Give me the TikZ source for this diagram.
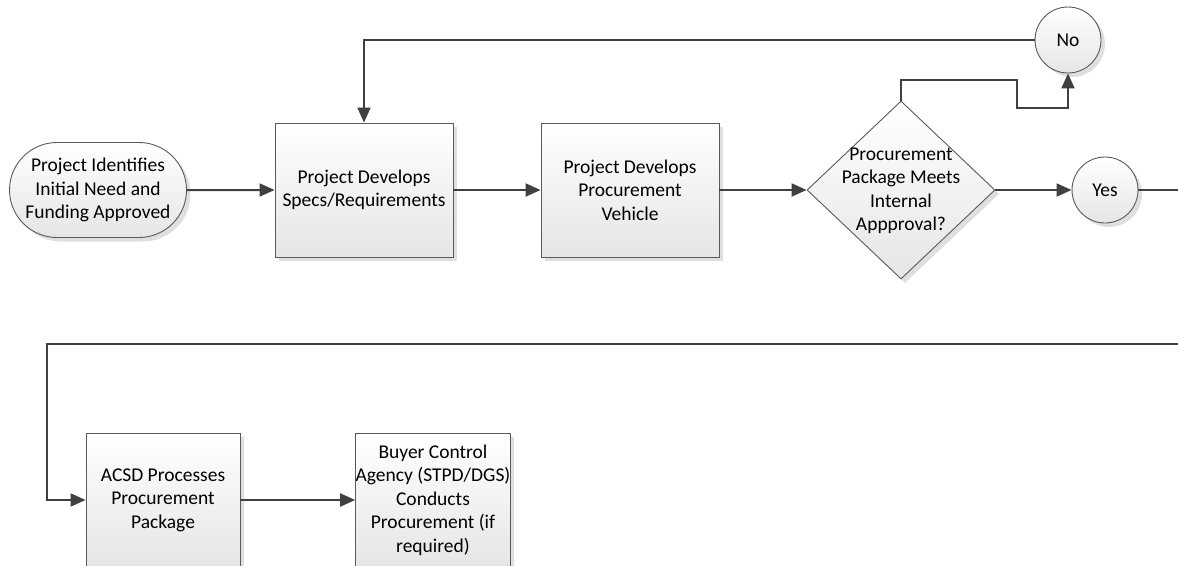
\documentclass[tikz,border=0pt]{standalone}
\usepackage{fontspec}
\setmainfont{Carlito}
\usepackage{tikz}
\usetikzlibrary{shapes.geometric,arrows.meta,shadows}
\definecolor{flowline}{HTML}{404040}
\definecolor{flowedge}{HTML}{5A5A5A}
\tikzset{%
  every flow/.style={
    draw=flowedge,
    line width=0.9pt,
    top color=white,
    bottom color=black!10,
    drop shadow={shadow xshift=4pt, shadow yshift=-4pt, fill=black!25, opacity=0.5},
    font=\fontsize{19.5}{23.5}\selectfont,
    align=center,
    inner sep=0pt
  },
  flow process/.style={
    rectangle,
    minimum width=178pt,
    minimum height=134pt
  },
  flow small/.style={
    rectangle,
    minimum width=154pt,
    minimum height=134pt
  },
  flow terminal/.style={
    rounded rectangle,
    minimum width=177pt,
    minimum height=95pt
  },
  flow decision/.style={
    diamond,
    minimum width=188pt,
    minimum height=178pt
  },
  flow answer/.style={
    circle,
    minimum size=66pt
  },
  flow arrow/.style={
    draw=flowline,
    line width=2pt,
    -{Triangle[length=15pt,width=13pt]}
  },
  flow line/.style={
    draw=flowline,
    line width=2pt
  }
}
\usetikzlibrary{shapes.misc}

\begin{document}
\begin{tikzpicture}[x=1pt, y=-1pt]

\useasboundingbox (0,0) rectangle (1178,565);
\clip (0,0) rectangle (1178,565);

\node [every flow/.try, flow terminal/.try] (start) at (98,190)
  {Project Identifies\\Initial Need and\\Funding Approved};

\foreach \n/\x/\t in {specs/364/{Project Develops\\Specs/Requirements},
                      vehicle/630/{Project Develops\\Procurement\\Vehicle}}
  \node [every flow/.try, flow process/.try] (\n) at (\x,190) {\t};

\node [every flow/.try, flow decision/.try, drop shadow={opacity=0}] (check) at (901,190) {};
\node [font=\fontsize{19.5}{23.5}\selectfont, align=center] (check-text) at (901,191)
  {Procurement\\Package Meets\\Internal\\Appproval?};

\node [every flow/.try, flow answer/.try] (yes) at (1105,190) {Yes};
\node [every flow/.try, flow answer/.try] (no) at (1068,40) {No};

\foreach \n/\x/\t in {acsd/163/{ACSD Processes\\Procurement\\Package},
                      buyer/433/{Buyer Control\\Agency (STPD/DGS)\\Conducts\\Procurement (if\\required)}}
  \node [every flow/.try, flow small/.try] (\n) at (\x,500) {\t};

\coordinate (yes-out) at (1190,190);
\coordinate (wrap-in) at (1190,344);

\draw [flow arrow] (start) -- (specs);
\draw [flow arrow] (specs) -- (vehicle);
\draw [flow arrow] (vehicle) -- (check);
\draw [flow arrow] (check) -- (yes);
\draw [flow line] (yes) -- (yes-out);

\draw [flow arrow] (check.north) -- ++(0,-21) -| (1017,108) -| (no.south);
\draw [flow arrow] (no.west) -| (specs.north);

\draw [flow arrow] (wrap-in) -- (47,344) |- (acsd.west);
\draw [flow arrow] (acsd) -- (buyer);

\end{tikzpicture}
\end{document}
